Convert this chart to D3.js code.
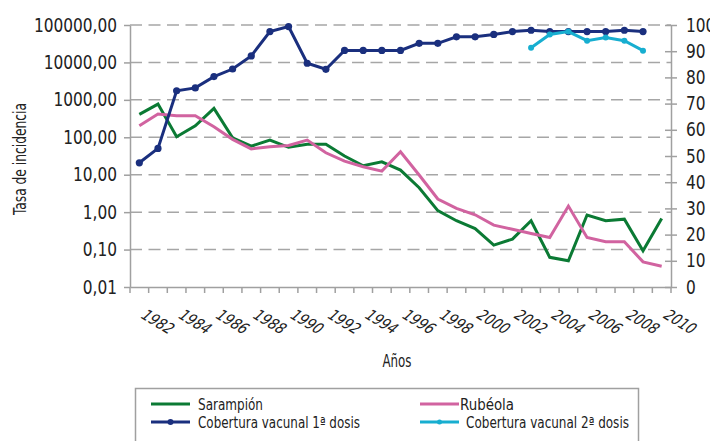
<!DOCTYPE html>
<html lang="es">
<head>
<meta charset="UTF-8">
<title>Sarampión y rubéola</title>
<script src="https://d3js.org/d3.v7.min.js"></script>
<style>
    body { margin: 0; background: #fff; }
    svg text { font-family: "Liberation Sans Narrow", "DejaVu Sans Condensed", sans-serif; fill: #222; }
    .axis path, .axis line { stroke: #a0a0a0; stroke-width: 1.5; }
    .grid line { stroke: #a6a6a6; stroke-width: 1.5; stroke-dasharray: 12,6.5; }
</style>
</head>
<body>
<div id="chart"></div>
<script>
// data
var years = [1982, 1983, 1984, 1985, 1986, 1987, 1988, 1989, 1990, 1991, 1992, 1993, 1994, 1995,
    1996, 1997, 1998, 1999, 2000, 2001, 2002, 2003, 2004, 2005, 2006, 2007, 2008, 2009, 2010];
var sarampion = [410, 770, 103, 203, 590, 97, 58, 84, 54, 65, 65, 31.5, 17.4, 22, 13.3, 4.5,
    1.1, 0.59, 0.365, 0.132, 0.19, 0.59, 0.062, 0.05, 0.84, 0.59, 0.65, 0.093, 0.68];
var rubeola = [203, 417, 375, 375, 191, 88, 49, 55.7, 60.7, 84, 38.6, 23, 16.3, 12.5, 41, 9.8,
    2.24, 1.26, 0.85, 0.45, 0.35, 0.27, 0.21, 1.45, 0.21, 0.162, 0.162, 0.047, 0.036];
var cobertura1 = [47.4, 52.9, 74.9, 76, 80.3, 83.2, 88.2, 97.5, 99.4, 85.4, 83.1, 90.3, 90.3, 90.3,
    90.3, 93, 93, 95.5, 95.5, 96.4, 97.5, 98, 97.5, 97.5, 97.5, 97.5, 98, 97.5];
var cobertura2Years = [2003, 2004, 2005, 2006, 2007, 2008, 2009];
var cobertura2 = [91.3, 96.4, 97.5, 94, 95.2, 94, 90.2];
var leftTicks = [0.01, 0.1, 1, 10, 100, 1000, 10000, 100000];
var rightTicks = [0, 10, 20, 30, 40, 50, 60, 70, 80, 90, 100];
var yearLabels = [1982, 1984, 1986, 1988, 1990, 1992, 1994, 1996, 1998, 2000, 2002, 2004, 2006, 2008, 2010];

var width = 710, height = 441;
var margin = {left: 130, right: 39, top: 25, bottom: 154};
var colors = {sar: "#0b7a34", rub: "#d163a0", c1: "#1a2f7e", c2: "#17aed0"};
var squeeze = 0.9; // the original font is narrower than what we have

var es = d3.formatLocale({decimal: ",", thousands: ".", grouping: [3], currency: ["", " €"]});
var fmt = es.format(".2f");

var svg = d3.select("#chart").append("svg")
    .attr("width", width)
    .attr("height", height);

var x = d3.scaleBand()
    .domain(years)
    .range([margin.left, width - margin.right]);
var yLeft = d3.scaleLog()
    .domain([0.01, 100000])
    .range([height - margin.bottom, margin.top]);
var yRight = d3.scaleLinear()
    .domain([0, 100])
    .range([height - margin.bottom, margin.top]);
function cx(yr) { return x(yr) + x.bandwidth() / 2; }

function narrow(sel) {
    sel.style("font-size", "19px")
        .attr("fill", "#222")
        .attr("x", function(){ return Number(d3.select(this).attr("x")) / squeeze; })
        .attr("transform", "scale(" + squeeze + ",1)");
}

// dashed gridlines
svg.append("g")
    .attr("class", "grid")
    .selectAll("line")
    .data(leftTicks.slice(1))
    .enter()
    .append("line")
    .attr("x1", margin.left)
    .attr("x2", width - margin.right)
    .attr("y1", function(d){ return yLeft(d); })
    .attr("y2", function(d){ return yLeft(d); });

// left axis
var gl = svg.append("g")
    .attr("class", "axis")
    .attr("transform", "translate(" + margin.left + ",0)")
    .call(d3.axisLeft(yLeft).tickValues(leftTicks).tickFormat(fmt).tickSize(6).tickSizeOuter(0).tickPadding(7));
gl.selectAll("text").call(narrow);

// right axis
var gr = svg.append("g")
    .attr("class", "axis")
    .attr("transform", "translate(" + (width - margin.right) + ",0)")
    .call(d3.axisRight(yRight).tickValues(rightTicks).tickSize(6).tickSizeOuter(0).tickPadding(9));
gr.selectAll(".tick line").attr("x1", -6);
gr.selectAll("text").call(narrow);

// bottom axis
var gb = svg.append("g")
    .attr("class", "axis")
    .attr("transform", "translate(0," + (height - margin.bottom) + ")")
    .call(d3.axisBottom(x).tickSize(0).tickSizeOuter(0)
        .tickFormat(function(d){ return yearLabels.indexOf(d) >= 0 ? d : ""; }));
gb.selectAll("text")
    .style("font-size", "16px")
    .style("text-anchor", "start")
    .attr("fill", "#222")
    .attr("x", 0)
    .attr("y", 0)
    .attr("dy", 0)
    .attr("transform", "translate(0,30) rotate(31) skewX(-16) scale(0.92,1)");
gb.selectAll(".bticks")
    .data(years.concat([null]))
    .enter()
    .append("line")
    .attr("x1", function(d){ return d === null ? x.range()[1] : x(d); })
    .attr("x2", function(d){ return d === null ? x.range()[1] : x(d); })
    .attr("y1", 0)
    .attr("y2", 6);

// axis titles
svg.append("text")
    .attr("transform", "translate(26,159) rotate(-90)")
    .attr("text-anchor", "middle")
    .attr("textLength", 112)
    .attr("lengthAdjust", "spacingAndGlyphs")
    .style("font-size", "18px")
    .text("Tasa de incidencia");
svg.append("text")
    .attr("x", 397)
    .attr("y", 367)
    .attr("text-anchor", "middle")
    .attr("textLength", 29)
    .attr("lengthAdjust", "spacingAndGlyphs")
    .style("font-size", "18px")
    .text("Años");

// lines
var lineLeft = d3.line()
    .x(function(d, i){ return cx(years[i]); })
    .y(function(d){ return yLeft(d); });
var lineRight = d3.line()
    .x(function(d){ return cx(d[0]); })
    .y(function(d){ return yRight(d[1]); });

svg.append("path")
    .datum(sarampion)
    .attr("d", lineLeft)
    .attr("fill", "none")
    .attr("stroke", colors.sar)
    .attr("stroke-width", 3);
svg.append("path")
    .datum(rubeola)
    .attr("d", lineLeft)
    .attr("fill", "none")
    .attr("stroke", colors.rub)
    .attr("stroke-width", 3);

var c1 = cobertura1.map(function(v, i){ return [years[i], v]; });
var c2 = cobertura2.map(function(v, i){ return [cobertura2Years[i], v]; });

svg.append("path")
    .datum(c1)
    .attr("d", lineRight)
    .attr("fill", "none")
    .attr("stroke", colors.c1)
    .attr("stroke-width", 3);
svg.selectAll(".m1")
    .data(c1)
    .enter()
    .append("circle")
    .attr("cx", function(d){ return cx(d[0]); })
    .attr("cy", function(d){ return yRight(d[1]); })
    .attr("r", 3.6)
    .attr("fill", colors.c1);

svg.append("path")
    .datum(c2)
    .attr("d", lineRight)
    .attr("fill", "none")
    .attr("stroke", colors.c2)
    .attr("stroke-width", 3);
svg.selectAll(".m2")
    .data(c2)
    .enter()
    .append("circle")
    .attr("cx", function(d){ return cx(d[0]); })
    .attr("cy", function(d){ return yRight(d[1]); })
    .attr("r", 3)
    .attr("fill", colors.c2);

// legend
var legend = svg.append("g");
legend.append("rect")
    .attr("x", 135.5)
    .attr("y", 388.5)
    .attr("width", 503)
    .attr("height", 70)
    .attr("fill", "#fff")
    .attr("stroke", "#a0a0a0")
    .attr("stroke-width", 1.5);

var legendItems = [
    {label: "Sarampión", color: colors.sar, marker: false, x: 151, tx: 198, y: 404, len: 65},
    {label: "Rubéola", color: colors.rub, marker: false, x: 420, tx: 460, y: 404, len: 54},
    {label: "Cobertura vacunal 1ª dosis", color: colors.c1, marker: 3, x: 151, tx: 198, y: 422, len: 162},
    {label: "Cobertura vacunal 2ª dosis", color: colors.c2, marker: 2.5, x: 420, tx: 466, y: 422, len: 163}
];
legendItems.forEach(function(d){
    legend.append("line")
        .attr("x1", d.x)
        .attr("x2", d.x + 39)
        .attr("y1", d.y)
        .attr("y2", d.y)
        .attr("stroke", d.color)
        .attr("stroke-width", 3);
    if (d.marker) {
        legend.append("circle")
            .attr("cx", d.x + 19.5)
            .attr("cy", d.y)
            .attr("r", d.marker)
            .attr("fill", d.color);
    }
    legend.append("text")
        .attr("x", d.tx)
        .attr("y", d.y + 5.5)
        .attr("textLength", d.len)
        .attr("lengthAdjust", "spacingAndGlyphs")
        .style("font-size", "15px")
        .text(d.label);
});
</script>
</body>
</html>
